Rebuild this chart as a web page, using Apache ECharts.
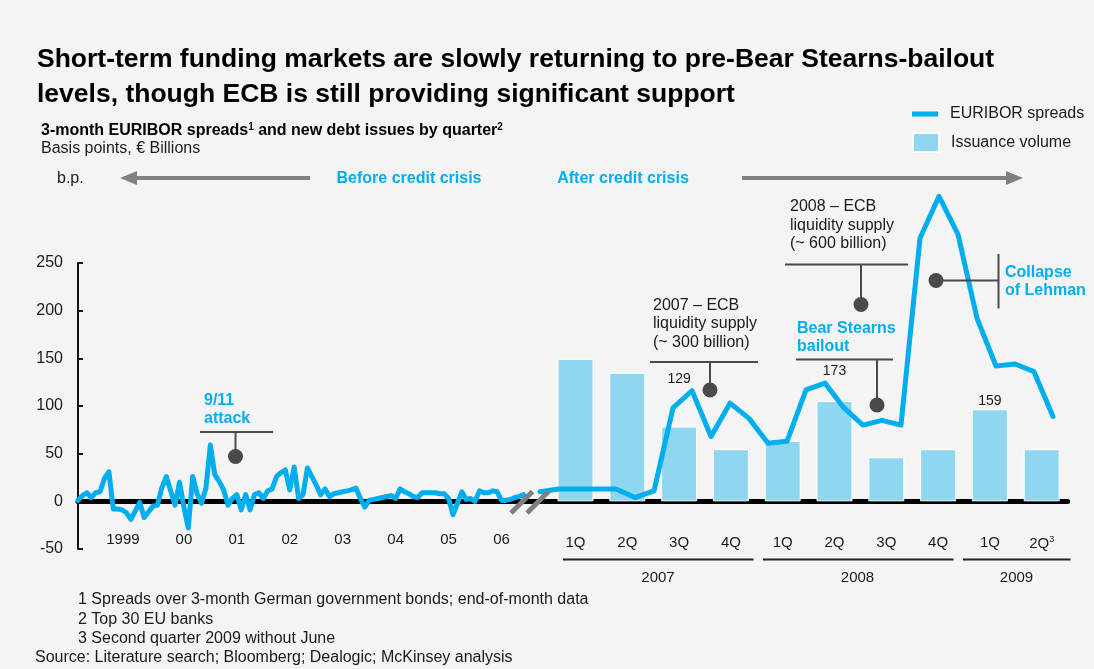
<!DOCTYPE html>
<html><head><meta charset="utf-8">
<script src="https://cdn.jsdelivr.net/npm/echarts@6/dist/echarts.min.js"></script>
<style>html,body{margin:0;padding:0;background:#f4f4f4}#c{width:1094px;height:669px}</style>
</head><body><div id="c"></div>
<script>
// ---------------- DATA ----------------
// 3-month EURIBOR spreads (bp), end-of-month, Jul 1998 – Dec 2006
const preCrisisStart = { year: 1998, month: 7 };
const preCrisisSpreads = [
  1, 6, 9, 4, 9, 10, 24, 31, -8, -8, -9, -12, -19, -10, -1, -17, -11, -5, -4, 14,
  26, 11, -4, 20, -6, -28, 26, 8, -2, 14, 59, 28, 21, 12, -4, 3, 7, -9, 7, -9,
  7, 9, 3, 11, 13, 26, 30, 33, 12, 36, 3, 7, 35, 26, 17, 7, 13, 5, 8, 9,
  10, 11, 12, 14, 3, -6, 1, 2, 3, 4, 5, 6, 3, 13, 10, 8, 5, 4, 9, 9,
  9, 9, 8, 8, 3, -14, -2, 10, 2, 3, 0, 11, 9, 9, 11, 10, 1, 1, 2, 4,
  5, 7
];
// Crisis period, monthly, Feb 2007 – May 2009
const crisisMonths = [
  '2007-02','2007-03','2007-04','2007-05','2007-06','2007-07','2007-08','2007-09','2007-10','2007-11','2007-12',
  '2008-01','2008-02','2008-03','2008-04','2008-05','2008-06','2008-07','2008-08','2008-09','2008-10','2008-11','2008-12',
  '2009-01','2009-02','2009-03','2009-04','2009-05'
];
const crisisSpreads = [
  10, 13, 13, 13, 13, 4, 11, 98, 116, 68, 103,
  87, 61, 63, 117, 124, 98, 80, 85, 80, 276, 320, 280,
  192, 142, 144, 136, 89
];
// New debt issues by quarter, top 30 EU banks (EUR billions)
const quarters = ['2007 1Q','2007 2Q','2007 3Q','2007 4Q','2008 1Q','2008 2Q','2008 3Q','2008 4Q','2009 1Q','2009 2Q'];
const issuance = [246, 222, 129, 90, 104, 173, 76, 90, 159, 90];
const labelledQuarters = ['2007 3Q', '2008 2Q', '2009 1Q'];
const yTickValues = { min: -50, max: 250, step: 50 };

// ---------------- STYLE ----------------
const FONT = '"Liberation Sans", Arial, sans-serif';
const CYAN = '#00aeef';
const BAR = '#8fd7f1';
const TXT = '#1a1a1a';
const GREY = '#808080';
const DARK = '#4a4a4a';
const barScale = 1.646;            // EUR bn per bp of plot height
const labelDistance = { '2007 3Q': 40, '2008 2Q': 23, '2009 1Q': 1 };
const plotH = 286;
const zeroOffset = -(0 - yTickValues.min) / (yTickValues.max - yTickValues.min) * plotH;

const preData = preCrisisSpreads.map((v, k) =>
  [preCrisisStart.year + (preCrisisStart.month - 1) / 12 + k / 12, v]);
const crisisData = crisisMonths.map((m, i) => {
  const [y, mo] = m.split('-').map(Number);
  return [(y - 2007) * 12 + (mo - 1), crisisSpreads[i]];
});
const barData = issuance.map((v, i) => {
  const q = quarters[i];
  if (labelledQuarters.includes(q)) {
    return { value: v, label: { show: true, position: 'top', distance: labelDistance[q],
      formatter: '{c}', fontFamily: FONT, fontSize: 14, color: TXT } };
  }
  return v;
});

const chart = echarts.init(document.getElementById('c'), null, { renderer: 'canvas' });

function txt(text, x, y, o = {}) {
  return { type: 'text', x, y, z: 50, style: Object.assign({ text, fill: TXT, fontFamily: FONT,
    fontSize: 16, verticalAlign: 'middle', align: 'left' }, o) };
}
function ln(x1, y1, x2, y2, color, w) {
  return { type: 'line', z: 40, shape: { x1, y1, x2, y2 }, style: { stroke: color, lineWidth: w } };
}
function dot(x, y) {
  return { type: 'circle', z: 41, shape: { cx: x, cy: y, r: 7.5 }, style: { fill: DARK } };
}

const graphics = [
  txt('Short-term funding markets are slowly returning to pre-Bear Stearns-bailout', 37, 60, { fontSize: 26.5, fontWeight: 'bold', fill: '#000' }),
  txt('levels, though ECB is still providing significant support', 37, 95, { fontSize: 26.5, fontWeight: 'bold', fill: '#000' }),
  txt('{b|3-month EURIBOR spreads}{s|1}{b| and new debt issues by quarter}{s|2}', 41, 131, {
    rich: { b: { fontFamily: FONT, fontSize: 16, fontWeight: 'bold', fill: '#000' },
            s: { fontFamily: FONT, fontSize: 10, fontWeight: 'bold', fill: '#000', padding: [0, 0, 8, 0] } } }),
  txt('Basis points, \u20ac Billions', 41, 149, { fontSize: 16 }),
  txt('b.p.', 57, 179, { fontSize: 16 }),
  // arrows
  ln(310, 178, 132, 178, GREY, 4),
  { type: 'polygon', z: 40, shape: { points: [[120, 178], [137, 171], [137, 185]] }, style: { fill: GREY } },
  ln(742, 178, 1010, 178, GREY, 4),
  { type: 'polygon', z: 40, shape: { points: [[1023, 178], [1006, 171], [1006, 185]] }, style: { fill: GREY } },
  txt('Before credit crisis', 409, 179, { fontWeight: 'bold', fill: CYAN, align: 'center' }),
  txt('After credit crisis', 623, 179, { fontWeight: 'bold', fill: CYAN, align: 'center' }),
  // 9/11
  txt('9/11\nattack', 204, 410, { fontWeight: 'bold', fill: CYAN, lineHeight: 18 }),
  ln(200, 432, 273, 432, DARK, 2), ln(235.5, 432, 235.5, 452, DARK, 2), dot(235.5, 456.5),
  // 2007 ECB
  txt('2007 \u2013 ECB\nliquidity supply\n(~ 300 billion)', 653, 324, { lineHeight: 18.3 }),
  ln(650, 362, 758, 362, DARK, 2), ln(710, 362, 710, 386, DARK, 2), dot(710, 390),
  // Bear Stearns
  txt('Bear Stearns\nbailout', 797, 338, { fontWeight: 'bold', fill: CYAN, lineHeight: 18 }),
  ln(796, 359.5, 893, 359.5, DARK, 2), ln(877, 359.5, 877, 400, DARK, 2), dot(877, 405),
  // 2008 ECB
  txt('2008 \u2013 ECB\nliquidity supply\n(~ 600 billion)', 790, 225.5, { lineHeight: 18.5 }),
  ln(785, 264.5, 908, 264.5, DARK, 2), ln(861, 264.5, 861, 300, DARK, 2), dot(861, 304.5),
  // Lehman
  ln(998.5, 254, 998.5, 308.5, DARK, 2), ln(936, 280.5, 998.5, 280.5, DARK, 2), dot(936, 280.5),
  txt('Collapse\nof Lehman', 1005, 281.5, { fontWeight: 'bold', fill: CYAN, lineHeight: 18 }),
  // break marks
  ln(511, 513, 532.5, 491.5, GREY, 5), ln(527, 513, 548.5, 491.5, GREY, 5),
  // year groups under quarters
  ln(563, 559.5, 753.5, 559.5, '#222', 2), ln(763, 559.5, 953.5, 559.5, '#222', 2), ln(963, 559.5, 1070.5, 559.5, '#222', 2),
  txt('2007', 658, 577.5, { fontSize: 15, align: 'center' }),
  txt('2008', 857.5, 577.5, { fontSize: 15, align: 'center' }),
  txt('2009', 1016.5, 577.5, { fontSize: 15, align: 'center' }),
  // footnotes
  txt('1 Spreads over 3-month German government bonds; end-of-month data', 78, 600, { fontSize: 16 }),
  txt('2 Top 30 EU banks', 78, 619.5, { fontSize: 16 }),
  txt('3 Second quarter 2009 without June', 78, 638.5, { fontSize: 16 }),
  txt('Source: Literature search; Bloomberg; Dealogic; McKinsey analysis', 35, 657.5, { fontSize: 16 })
];

const baseLine = { show: true, onZero: false, lineStyle: { color: '#000', width: 5, cap: 'round' } };

const option = {
  backgroundColor: '#f4f4f4',
  animation: false,
  textStyle: { fontFamily: FONT },
  grid: [
    { left: 78, top: 263, width: 450, height: plotH },
    { left: 549.6, top: 263, width: 518, height: plotH },
    { left: 521, top: 263, width: 532, height: plotH }
  ],
  legend: [
    { data: ['EURIBOR spreads'], left: 912, top: 106, padding: 0, orient: 'vertical', icon: 'rect', itemWidth: 26, itemHeight: 5,
      selectedMode: false, textStyle: { fontFamily: FONT, fontSize: 16, color: TXT, padding: [0, 0, 0, 7] } },
    { data: ['Issuance volume'], left: 912, top: 132, padding: 0, orient: 'vertical', icon: 'rect', itemWidth: 26, itemHeight: 19,
      selectedMode: false, textStyle: { fontFamily: FONT, fontSize: 16, color: TXT, padding: [0, 0, 0, 7] } }
  ],
  xAxis: [
    { gridIndex: 0, type: 'value', min: 1998.5, max: 2007, interval: 1, position: 'bottom', offset: zeroOffset,
      axisLine: baseLine, axisTick: { show: false }, splitLine: { show: false },
      axisLabel: { margin: 31, fontSize: 15, color: TXT, fontFamily: FONT, showMinLabel: false, showMaxLabel: false,
        rich: { first: { fontSize: 15, color: TXT, fontFamily: FONT, padding: [0, 16, 0, 0] } },
        formatter: v => { const f = v - Math.floor(v); if (Math.abs(f - 0.5) > 0.01) return '';
          const y = Math.floor(v); if (y < 1999) return ''; return y === 1999 ? '{first|1999}' : String(y % 100).padStart(2, '0'); } } },
    { gridIndex: 1, type: 'category', data: quarters, boundaryGap: true, position: 'bottom', offset: zeroOffset,
      axisLine: baseLine, axisTick: { show: false },
      axisLabel: { interval: 0, margin: 34, fontSize: 15, color: TXT, fontFamily: FONT,
        formatter: (v, i) => { const q = v.split(' ')[1]; return i === quarters.length - 1 ? q + '{s|3}' : q; },
        rich: { s: { fontSize: 9, color: TXT, fontFamily: FONT, padding: [0, 0, 8, 0] } } } },
    { gridIndex: 2, type: 'value', min: 0, max: 28, position: 'bottom', offset: zeroOffset,
      axisLine: baseLine, axisTick: { show: false }, axisLabel: { show: false }, splitLine: { show: false } }
  ],
  yAxis: [
    { gridIndex: 0, type: 'value', min: yTickValues.min, max: yTickValues.max, interval: yTickValues.step,
      axisLine: { show: true, onZero: false, lineStyle: { color: '#111', width: 2 } },
      axisTick: { show: true, inside: true, length: 5, lineStyle: { color: '#111', width: 2 } },
      splitLine: { show: false },
      axisLabel: { margin: 15, fontSize: 16, color: TXT, fontFamily: FONT } },
    { gridIndex: 1, type: 'value', min: yTickValues.min * barScale, max: yTickValues.max * barScale, show: false, splitLine: { show: false } },
    { gridIndex: 2, type: 'value', min: yTickValues.min, max: yTickValues.max, show: false, splitLine: { show: false } }
  ],
  series: [
    { name: 'Issuance volume', type: 'bar', xAxisIndex: 1, yAxisIndex: 1, data: barData, barWidth: 36, z: 2,
      itemStyle: { color: BAR, borderColor: '#ffffff', borderWidth: 1 } },
    { name: 'EURIBOR spreads', type: 'line', xAxisIndex: 0, yAxisIndex: 0, data: preData, clip: false,
      showSymbol: false, symbol: 'none', z: 5, lineStyle: { color: CYAN, width: 5, join: 'round', cap: 'round' }, itemStyle: { color: CYAN } },
    { name: 'EURIBOR spreads', type: 'line', xAxisIndex: 2, yAxisIndex: 2, data: crisisData, clip: false,
      showSymbol: false, symbol: 'none', z: 5, lineStyle: { color: CYAN, width: 5, join: 'round', cap: 'round' }, itemStyle: { color: CYAN } }
  ],
  graphic: graphics
};
chart.setOption(option);
</script>
</body></html>
